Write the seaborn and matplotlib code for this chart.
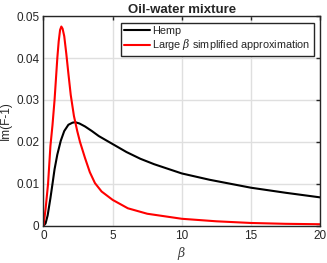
import numpy as np
import pandas as pd
import matplotlib
matplotlib.use('Agg')
import matplotlib.pyplot as plt
from matplotlib.ticker import FuncFormatter
import seaborn as sns

# values
beta_hemp = [0, 0.15, 0.3, 0.5, 0.65, 0.8, 1.0, 1.25, 1.5, 1.8, 2.1, 2.3, 2.6, 3.0, 3.5,
             4.0, 5.0, 6.0, 7.0, 8.0, 10.0, 12.0, 15.0, 17.5, 20.0]
im_hemp = [0, 0.0006, 0.0025, 0.0066, 0.0100, 0.0135, 0.0170, 0.0203, 0.0226, 0.0241,
           0.0246, 0.0247, 0.0244, 0.0237, 0.0226, 0.0214, 0.0195, 0.0176, 0.0160,
           0.0147, 0.0125, 0.0110, 0.0091, 0.0079, 0.0068]

beta_large = [0, 0.15, 0.33, 0.5, 0.65, 0.8, 0.9, 1.0, 1.1, 1.2, 1.29, 1.38, 1.5, 1.65,
              1.8, 1.97, 2.2, 2.44, 2.64, 3.0, 3.35, 3.72, 4.2, 5.0, 6.1, 7.5, 10.0,
              12.5, 15.0, 17.5, 20.0]
im_large = [0, 0.0040, 0.0100, 0.0190, 0.0240, 0.0300, 0.0350, 0.0400, 0.0440, 0.0467,
            0.0475, 0.0470, 0.0452, 0.0410, 0.0363, 0.0312, 0.0262, 0.0226, 0.0200,
            0.0162, 0.0128, 0.0102, 0.0082, 0.0062, 0.0042, 0.0029, 0.0017, 0.0011,
            0.0007, 0.0005, 0.0004]

sns.set_style('white')
plt.rcParams['font.family'] = ['Liberation Sans', 'DejaVu Sans']
plt.rcParams['mathtext.fontset'] = 'dejavuserif'

fig = plt.figure(figsize=(3.27, 2.63), dpi=100)
ax = fig.add_axes([0.133, 0.141, 0.846, 0.798])

df_hemp = pd.DataFrame({'beta': beta_hemp, 'im': im_hemp})
df_large = pd.DataFrame({'beta': beta_large, 'im': im_large})
sns.lineplot(data=df_hemp, x='beta', y='im', color='black', lw=1.5, label='Hemp', ax=ax)
sns.lineplot(data=df_large, x='beta', y='im', color='#ff0000', lw=1.5,
             label=r'Large $\beta$ simplified approximation', ax=ax)

ax.set_xlim(0, 20)
ax.set_ylim(0, 0.05)
ax.set_xticks([0, 5, 10, 15, 20])
ax.set_yticks([0, 0.01, 0.02, 0.03, 0.04, 0.05])
ax.yaxis.set_major_formatter(FuncFormatter(lambda v, p: '0' if v == 0 else f'{v:g}'))
ax.grid(True, color='#dfdfdf', lw=1)
ax.set_axisbelow(True)
for s in ax.spines.values():
    s.set_color('#262626')
    s.set_linewidth(1)
ax.tick_params(direction='in', length=3, width=1, top=True, right=True,
               labelsize=8.5, colors='#262626', pad=3)

ax.set_title('Oil-water mixture', fontsize=9.5, fontweight='bold', pad=2)
ax.set_xlabel(r'$\beta$', fontsize=9, color='#404040', labelpad=2)
ax.set_ylabel('Im(F-1)', fontsize=8.5, color='#262626', labelpad=3)

leg = ax.legend(loc='upper right', fontsize=7.8, frameon=True, fancybox=False,
                handlelength=2.4, handletextpad=0.2, borderpad=0.3,
                labelspacing=0.15, borderaxespad=0.6)
leg.get_frame().set_edgecolor('#262626')
leg.get_frame().set_linewidth(1)
leg.get_frame().set_alpha(1)

fig.savefig('out.png', dpi=100)
